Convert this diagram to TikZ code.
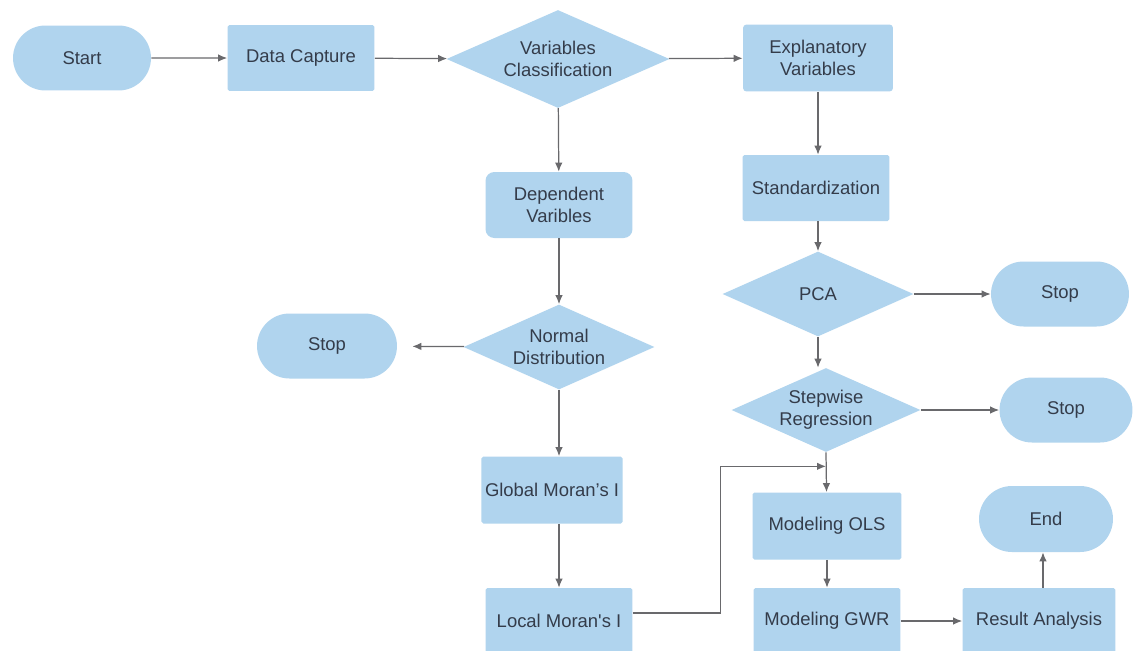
\documentclass[tikz,border=0pt]{standalone}
\usepackage{fontspec}
\setmainfont{Liberation Sans}
\usepackage{tikz}
\usetikzlibrary{arrows.meta,shapes,positioning,calc}

\definecolor{boxblue}{RGB}{176,212,238}
\definecolor{linegray}{RGB}{105,105,108}
\definecolor{textgray}{RGB}{52,60,74}

\tikzset{
  every node/.style={font=\fontsize{10.5}{12.5}\selectfont, text=textgray, align=center},
  proc/.style={rectangle, fill=boxblue, rounded corners=1pt, inner sep=2pt,
    minimum width=2.94cm, minimum height=1.32cm},
  term/.style={rounded rectangle, fill=boxblue, inner sep=2pt,
    minimum width=2.9cm, minimum height=1.3cm},
  decide/.style={diamond, fill=boxblue, inner sep=0pt, aspect=2.3,
    minimum width=3.82cm, minimum height=1.7cm},
  arr/.style={draw=linegray, line width=0.7pt, -{Latex[length=1.8mm,width=1.5mm]}}
}

\begin{document}
\begin{tikzpicture}[x=0.02cm,y=-0.02cm]
  \useasboundingbox (0,0) rectangle (1137,650);
  \clip (0,0) rectangle (1137,650);
  \fill[white] (0,0) rectangle (1137,650);

  % top row
  \node[term] (start) at (82,58) {Start};
  \node[proc] (capture) at (301,58) {Data Capture};
  \node[decide, minimum width=4.46cm, minimum height=1.96cm] (classify) at (558,59) {Variables\\Classification};
  \node[proc, minimum width=3cm, minimum height=1.34cm, rounded corners=2pt] (explan) at (818,58) {Explanatory\\Variables};

  % right branch
  \node[proc] (standard) at (816,188) {Standardization};
  \node[decide] (pca) at (818,294) {PCA};
  \node[term] (stopA) at (1060,294) {Stop};
  \node[decide, minimum width=3.78cm, minimum height=1.68cm] (stepwise) at (826,410) {Stepwise\\Regression};
  \node[term, minimum width=2.8cm] (stopB) at (1066,410) {Stop};
  \node[proc, minimum width=2.98cm, minimum height=1.34cm] (ols) at (827,526) {Modeling OLS};
  \node[proc] (gwr) at (827,621) {Modeling GWR};
  \node[proc, minimum width=3.06cm] (result) at (1039,621) {Result Analysis};
  \node[term, minimum width=2.82cm, minimum height=1.32cm] (theend) at (1046,519) {End};

  % left branch
  \node[proc, rounded corners=5pt] (depend) at (559,205) {Dependent\\Varibles};
  \node[decide] (normal) at (559,347) {Normal\\Distribution};
  \node[term, minimum width=2.94cm] (stopC) at (327,346) {Stop};
  \node[proc, minimum width=2.64cm, minimum height=1.34cm] (global) at (552,490) {Global Moran’s I};
  \node[proc] (local) at (559,621) {Local Moran\textquotesingle s I};

  \coordinate (join) at ($(stepwise.south)+(0,14)$);

  \draw[arr] (start) -- (capture);
  \draw[arr] (capture) -- (classify);
  \draw[arr] (classify) -- (explan);
  \draw[arr] (classify) -- (depend);
  \draw[arr] (explan) -- (explan |- standard.north);
  \draw[arr] (standard.south -| pca) -- (pca);
  \draw[arr] (pca) -- (stopA);
  \draw[arr] (pca.south) -- (pca.south |- stepwise.north);
  \draw[arr] (stepwise) -- (stopB);
  \draw[arr] (stepwise.south) -- (ols);
  \draw[arr] (depend) -- (normal);
  \draw[arr, shorten >=0.3cm] (normal) -- (stopC);
  \draw[arr] (normal.south) -- (normal.south |- global.north);
  \draw[arr] (global.south -| local) -- (local);
  \draw[arr] ($(local.east)+(0,-8)$) -- ++(88,0) |- (join);
  \draw[arr] (ols) -- (gwr);
  \draw[arr] (gwr) -- (result);
  \draw[arr] ($(result.north)+(4,0)$) -- ($(theend.south)+(-3,0)$);
\end{tikzpicture}
\end{document}
